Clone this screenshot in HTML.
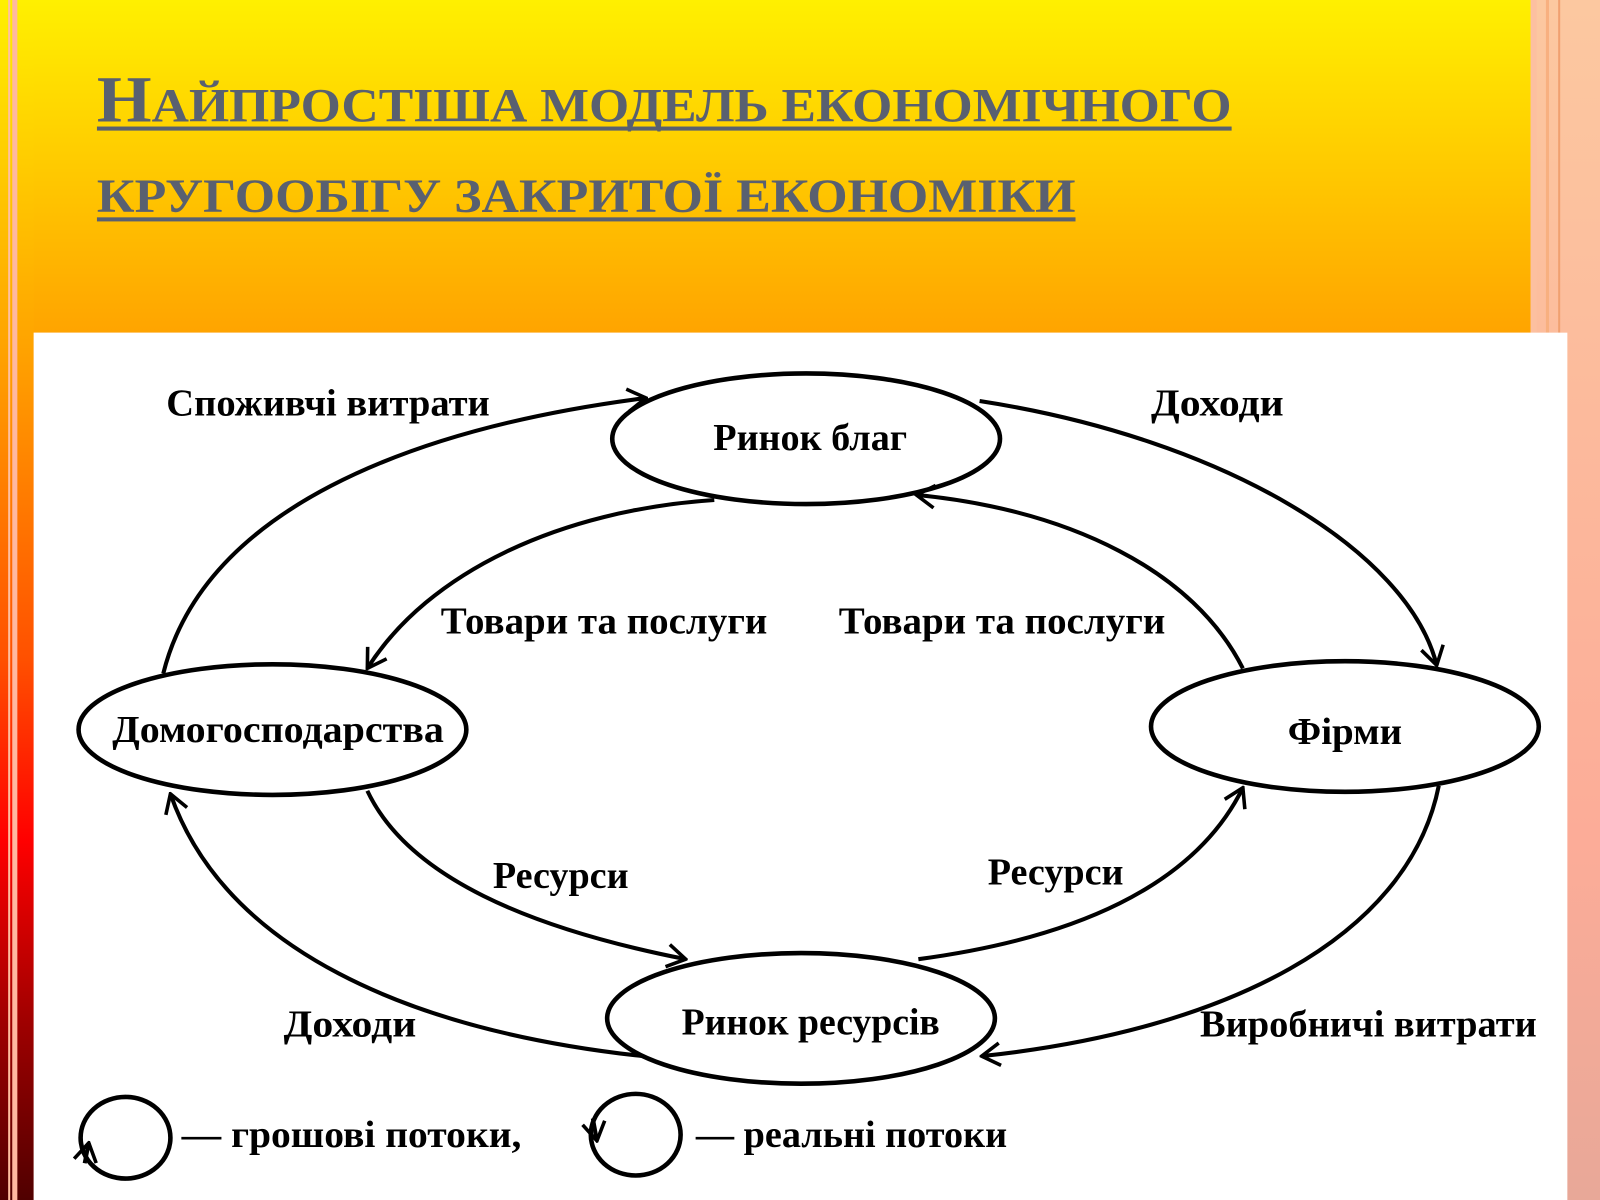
<!DOCTYPE html>
<html><head><meta charset="utf-8"><style>
html,body{margin:0;padding:0;width:1600px;height:1200px;overflow:hidden}
svg{display:block}
</style></head><body>
<svg width="1600" height="1200" viewBox="0 0 1568 1176" preserveAspectRatio="none" xmlns="http://www.w3.org/2000/svg">
<defs>
<linearGradient id="top" x1="0" y1="0" x2="0" y2="1">
<stop offset="0" stop-color="#fff000"/><stop offset="1" stop-color="#ffa400"/></linearGradient>
<linearGradient id="left" x1="0" y1="0" x2="0" y2="1">
<stop offset="0" stop-color="#fff000"/><stop offset="0.3" stop-color="#ffa000"/><stop offset="0.55" stop-color="#ff5000"/><stop offset="0.7" stop-color="#ff0000"/><stop offset="0.85" stop-color="#a00000"/><stop offset="1" stop-color="#500000"/></linearGradient>
<linearGradient id="right" x1="0" y1="0" x2="0" y2="1">
<stop offset="0" stop-color="#fcc8a0"/><stop offset="0.7" stop-color="#fcac98"/><stop offset="1" stop-color="#e8a898"/></linearGradient>
<marker id="ar" viewBox="-20 -14 22 28" markerWidth="22" markerHeight="28" refX="0" refY="0" orient="auto" markerUnits="userSpaceOnUse">
<path d="M-18,-11 L0,0 L-18,11" fill="none" stroke="#000" stroke-width="3.5"/></marker>
</defs>
<rect width="1568" height="1176" fill="url(#right)"/>
<rect width="1500" height="326" fill="url(#top)"/>
<rect width="33" height="1176" fill="url(#left)"/>
<rect x="8" width="2" height="1176" fill="#ffc0a0"/>
<rect x="12" width="5" height="1176" fill="#ffb8a0"/>
<rect x="1500" width="6" height="326" fill="#fcc0a0"/>
<rect x="1515" width="3" height="326" fill="#f8b080"/>
<rect x="1527" width="2" height="326" fill="#f0a070"/>
<rect x="33" y="326" width="1503" height="850" fill="#fff"/>
<g fill="#596070" font-family="Liberation Serif, serif" font-weight="bold">
<text x="95" y="119" textLength="1112" lengthAdjust="spacingAndGlyphs"><tspan font-size="64">Н</tspan><tspan font-size="47">АЙПРОСТІША МОДЕЛЬ ЕКОНОМІЧНОГО</tspan></text>
<text x="95" y="208" textLength="959" lengthAdjust="spacingAndGlyphs" font-size="47">КРУГООБІГУ ЗАКРИТОЇ ЕКОНОМІКИ</text>
<rect x="95" y="124" width="1112" height="4"/>
<rect x="95" y="213" width="959" height="4"/>
</g>
<g fill="none" stroke="#000" stroke-width="4.5">
<ellipse cx="790" cy="430" rx="190" ry="64"/>
<ellipse cx="267" cy="715" rx="190" ry="64"/>
<ellipse cx="1318" cy="712" rx="190" ry="64"/>
<ellipse cx="785" cy="998" rx="190" ry="64"/>
<ellipse cx="123" cy="1115" rx="44" ry="40"/>
<ellipse cx="623" cy="1112" rx="44" ry="40"/>
</g>
<g fill="none" stroke="#000" stroke-width="4" marker-end="url(#ar)">
<path d="M160,660 C200,500 400,420 633,390"/>
<path d="M960,393 C1200,430 1380,540 1408,652"/>
<path d="M700,490 C550,500 420,560 360,655"/>
<path d="M1218,655 C1170,560 1050,500 898,485"/>
<path d="M360,775 C400,860 520,910 672,940"/>
<path d="M900,940 C1050,920 1170,870 1218,772"/>
<path d="M630,1035 C400,1010 220,930 167,778"/>
<path d="M1410,770 C1380,920 1200,1010 962,1035"/>
<path d="M83,1140 L87,1120" />
<path d="M581,1096 L585,1118" />
</g>
<g font-family="Liberation Serif, serif" font-weight="bold" font-size="37" fill="#000">
<text x="163" y="407" textLength="317" lengthAdjust="spacingAndGlyphs">Споживчі витрати</text>
<text x="1128" y="407" textLength="130" lengthAdjust="spacingAndGlyphs">Доходи</text>
<text x="699" y="441" textLength="190" lengthAdjust="spacingAndGlyphs">Ринок благ</text>
<text x="432" y="621" textLength="320" lengthAdjust="spacingAndGlyphs">Товари та послуги</text>
<text x="822" y="621" textLength="320" lengthAdjust="spacingAndGlyphs">Товари та послуги</text>
<text x="110" y="727" textLength="325" lengthAdjust="spacingAndGlyphs">Домогосподарства</text>
<text x="1262" y="729" textLength="112" lengthAdjust="spacingAndGlyphs">Фірми</text>
<text x="483" y="870" textLength="133" lengthAdjust="spacingAndGlyphs">Ресурси</text>
<text x="968" y="867" textLength="133" lengthAdjust="spacingAndGlyphs">Ресурси</text>
<text x="278" y="1016" textLength="130" lengthAdjust="spacingAndGlyphs">Доходи</text>
<text x="668" y="1014" textLength="253" lengthAdjust="spacingAndGlyphs">Ринок ресурсів</text>
<text x="1176" y="1016" textLength="330" lengthAdjust="spacingAndGlyphs">Виробничі витрати</text>
<text x="178" y="1124" textLength="333" lengthAdjust="spacingAndGlyphs">— грошові потоки,</text>
<text x="682" y="1124" textLength="305" lengthAdjust="spacingAndGlyphs">— реальні потоки</text>
</g>
</svg>
</body></html>
